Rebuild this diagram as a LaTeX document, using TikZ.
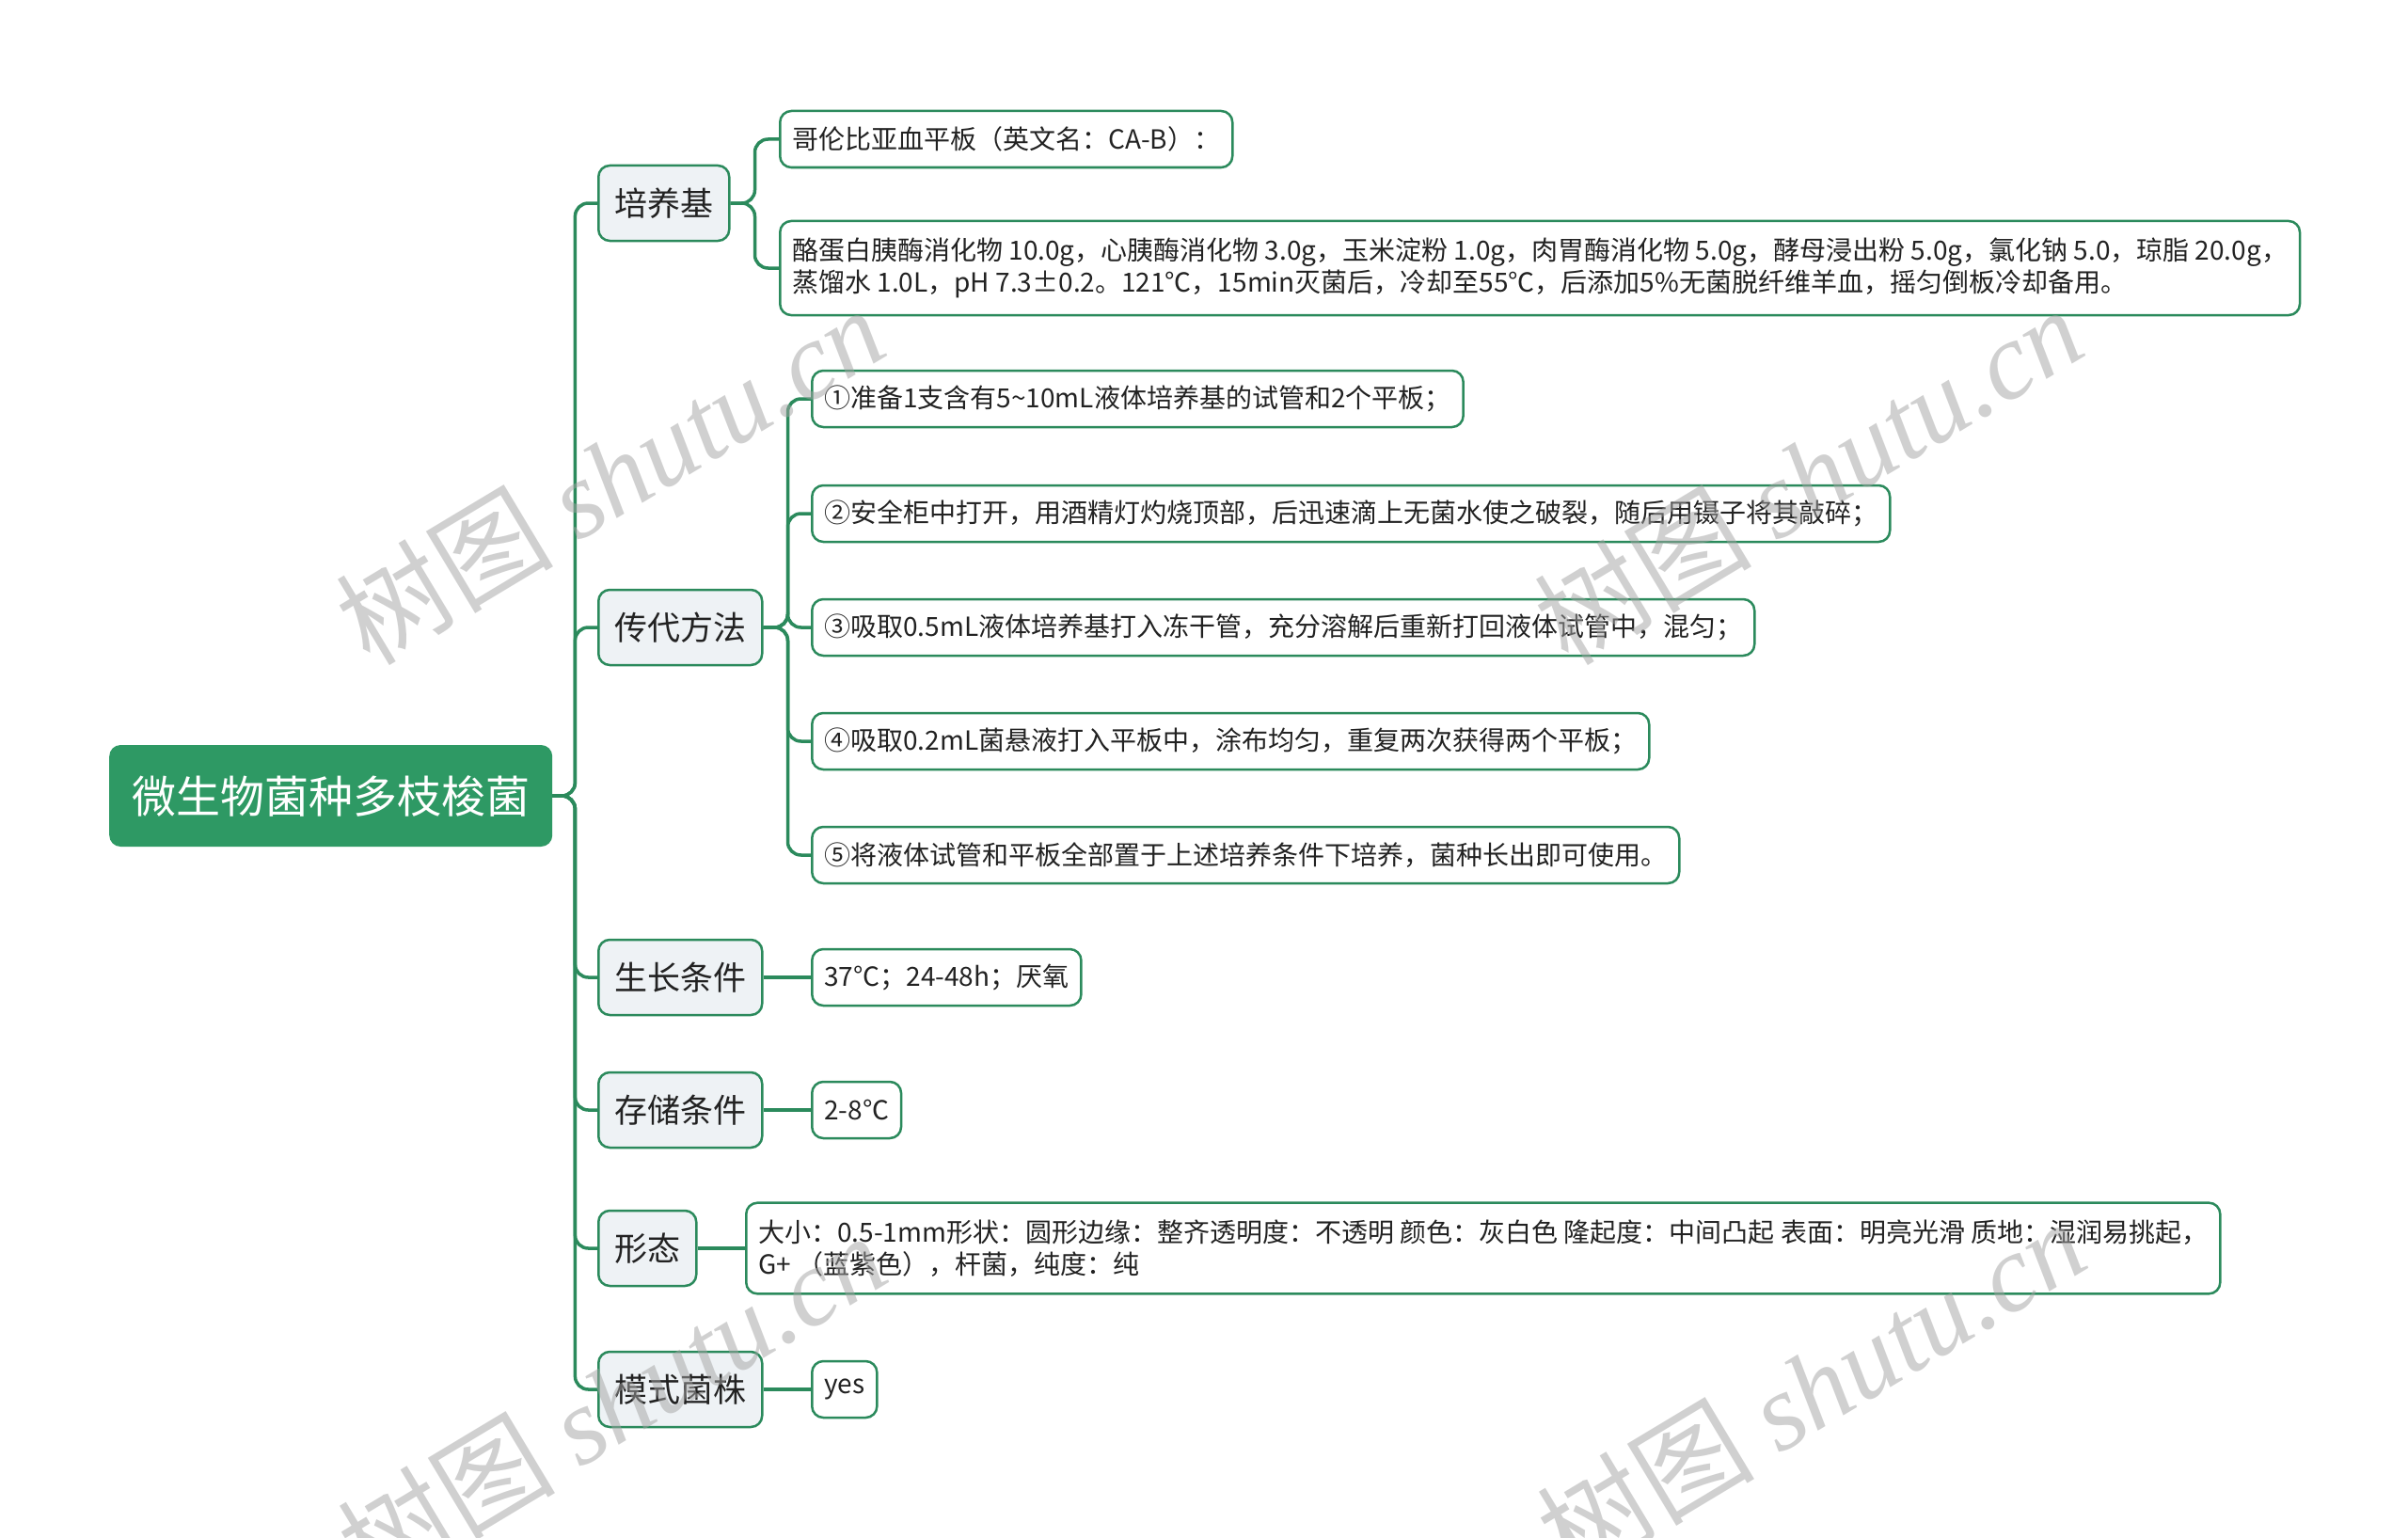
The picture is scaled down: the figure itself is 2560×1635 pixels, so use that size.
\documentclass[tikz,border=0pt]{standalone}
\usepackage{fontspec}
\setmainfont{Noto Sans CJK SC}
\newfontfamily\wmserif{Liberation Serif}
\newfontfamily\cjkf{Noto Sans CJK SC}
\definecolor{gr}{HTML}{2B8A5C}
\definecolor{rootfill}{HTML}{2E9964}
\definecolor{lonefill}{HTML}{EEF2F5}
\definecolor{txt}{HTML}{222222}
\tikzset{
  leaf/.style={draw=gr, line width=2.5pt, rounded corners=12pt, fill=white, inner xsep=13pt, inner ysep=8pt, minimum height=60pt, align=left, text=txt, font=\fontsize{28}{34}\selectfont, anchor=west},
  twoline/.style={inner ysep=18pt},
  lone/.style={draw=gr, line width=2.5pt, rounded corners=12pt, fill=lonefill, inner xsep=17pt, minimum height=80pt, text=txt, font=\fontsize{35}{40}\selectfont, anchor=west},
  rootbox/.style={fill=rootfill, rounded corners=12pt, text=white, minimum height=108pt, inner xsep=24pt, font=\fontsize{47}{50}\selectfont, anchor=west},
  conn/.style={draw=gr, line width=3.5pt, rounded corners=14pt},
  wm/.style={rotate=31, text=black!36, opacity=0.5, font=\fontsize{116}{116}\selectfont}
}
\begin{document}
\begin{tikzpicture}[x=1pt,y=-1pt]
\useasboundingbox (0,0) rectangle (2560,1635);
\fill[white] (0,0) rectangle (2560,1635);

\node[rootbox] (root) at (116,846) {微生物菌种多枝梭菌};

\node[lone] (n1) at (635,216) {培养基};
\node[lone] (n2) at (635,667) {传代方法};
\node[lone] (n3) at (635,1039) {生长条件};
\node[lone] (n4) at (635,1180) {存储条件};
\node[lone] (n5) at (635,1327) {形态};
\node[lone] (n6) at (635,1477) {模式菌株};

\node[leaf] (a1) at (828,148) {哥伦比亚血平板（英文名：CA-B）：};
\node[leaf,twoline] (a2) at (828,285) {酪蛋白胰酶消化物 10.0g，心胰酶消化物 3.0g，玉米淀粉 1.0g，肉胃酶消化物 5.0g，酵母浸出粉 5.0g，氯化钠 5.0，琼脂 20.0g，\\蒸馏水 1.0L，pH 7.3±0.2。121℃，15min灭菌后，冷却至55℃，后添加5\%无菌脱纤维羊血，摇匀倒板冷却备用。};

\node[leaf] (b1) at (862,424) {①准备1支含有5\textasciitilde10mL液体培养基的试管和2个平板；};
\node[leaf] (b2) at (862,546) {②安全柜中打开，用酒精灯灼烧顶部，后迅速滴上无菌水使之破裂，随后用镊子将其敲碎；};
\node[leaf] (b3) at (862,667) {③吸取0.5mL液体培养基打入冻干管，充分溶解后重新打回液体试管中，混匀；};
\node[leaf] (b4) at (862,788) {④吸取0.2mL菌悬液打入平板中，涂布均匀，重复两次获得两个平板；};
\node[leaf] (b5) at (862,909) {⑤将液体试管和平板全部置于上述培养条件下培养，菌种长出即可使用。};

\node[leaf] (c1) at (862,1039) {37°C；24-48h；厌氧};
\node[leaf] (d1) at (862,1180) {2-8℃};
\node[leaf,twoline] (e1) at (792,1327) {大小：0.5-1mm形状：圆形边缘：整齐透明度：不透明 颜色：灰白色 隆起度：中间凸起 表面：明亮光滑 质地：湿润易挑起，\\G+ （蓝紫色），杆菌，纯度：纯};
\node[leaf] (f1) at (862,1477) {yes};

\foreach \n in {n1,n2,n3,n4,n5,n6}{
  \draw[conn] (root.east) -- ++(24,0) |- (\n.west);
}
\foreach \n in {a1,a2}{
  \draw[conn] (n1.east) -- ++(26,0) |- (\n.west);
}
\foreach \n in {b1,b2,b3,b4,b5}{
  \draw[conn] (n2.east) -- ++(26,0) |- (\n.west);
}
\draw[conn] (n3.east) -- (c1.west);
\draw[conn] (n4.east) -- (d1.west);
\draw[conn] (n5.east) -- (e1.west);
\draw[conn] (n6.east) -- (f1.west);

\node[wm] (w1) at (648,505) {\cjkf 树图 \wmserif\itshape shutu.cn};
\node[wm] (w2) at (1922,505) {\cjkf 树图 \wmserif\itshape shutu.cn};
\node[wm] (w3) at (650,1490) {\cjkf 树图 \wmserif\itshape shutu.cn};
\node[wm] (w4) at (1925,1475) {\cjkf 树图 \wmserif\itshape shutu.cn};
\end{tikzpicture}
\end{document}
